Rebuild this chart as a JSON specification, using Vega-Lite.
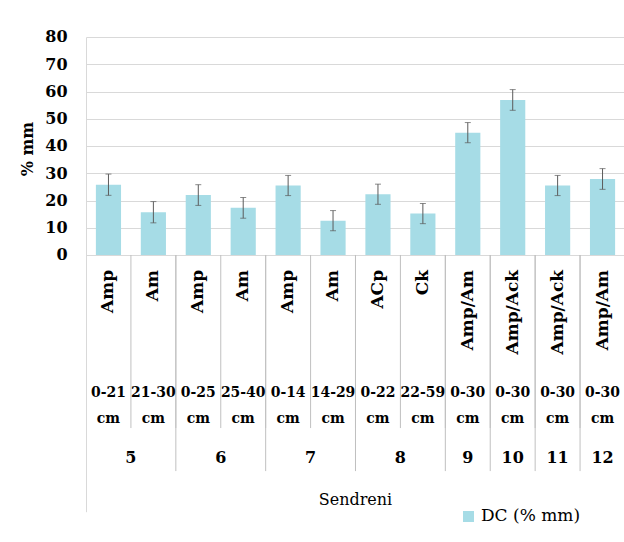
{
  "$schema": "https://vega.github.io/schema/vega-lite/v6.json",
  "autosize": {"type": "none"},
  "width": 539,
  "height": 474.7,
  "padding": {"left": 86, "top": 37, "right": 0, "bottom": 30},
  "background": "white",
  "config": {"view": {"stroke": null}, "font": "DejaVu Serif"},
  "title": {"text": "(a)", "fontSize": 17, "fontWeight": "bold", "font": "DejaVu Serif", "color": "black", "anchor": "middle", "frame": "bounds", "offset": 29, "baseline": "bottom"},
  "data": {"values": [
    {"sample": 1, "profile": "5", "horizon": "Amp", "depth": "0-21 cm", "dc": 25.8, "err": 3.9},
    {"sample": 2, "profile": "5", "horizon": "Am", "depth": "21-30 cm", "dc": 15.7, "err": 3.9},
    {"sample": 3, "profile": "6", "horizon": "Amp", "depth": "0-25 cm", "dc": 22.0, "err": 3.8},
    {"sample": 4, "profile": "6", "horizon": "Am", "depth": "25-40 cm", "dc": 17.3, "err": 3.8},
    {"sample": 5, "profile": "7", "horizon": "Amp", "depth": "0-14 cm", "dc": 25.5, "err": 3.7},
    {"sample": 6, "profile": "7", "horizon": "Am", "depth": "14-29 cm", "dc": 12.6, "err": 3.7},
    {"sample": 7, "profile": "8", "horizon": "ACp", "depth": "0-22 cm", "dc": 22.3, "err": 3.7},
    {"sample": 8, "profile": "8", "horizon": "Ck", "depth": "22-59 cm", "dc": 15.2, "err": 3.7},
    {"sample": 9, "profile": "9", "horizon": "Amp/Am", "depth": "0-30 cm", "dc": 44.9, "err": 3.7},
    {"sample": 10, "profile": "10", "horizon": "Amp/Ack", "depth": "0-30 cm", "dc": 56.9, "err": 3.8},
    {"sample": 11, "profile": "11", "horizon": "Amp/Ack", "depth": "0-30 cm", "dc": 25.5, "err": 3.7},
    {"sample": 12, "profile": "12", "horizon": "Amp/Am", "depth": "0-30 cm", "dc": 27.9, "err": 3.8}
  ]},
  "encoding": {
    "x": {"field": "sample", "type": "ordinal", "scale": {"paddingInner": 0, "paddingOuter": 0}, "axis": null}
  },
  "layer": [
    {
      "mark": {"type": "bar", "width": {"band": 0.56}},
      "encoding": {
        "y": {"field": "dc", "type": "quantitative", "title": "% mm",
          "scale": {"domain": [-94.2, 80], "nice": false, "zero": false},
          "axis": {"values": [0, 10, 20, 30, 40, 50, 60, 70, 80], "grid": true, "gridColor": "#d9d9d9", "domainColor": "#d9d9d9", "ticks": false,
            "labelFontSize": 16, "labelFontWeight": "bold", "labelColor": "black", "labelPadding": 19, "labelFont": "DejaVu Serif",
            "titleFontSize": 16, "titleFontWeight": "bold", "titleColor": "black", "titleFont": "DejaVu Serif", "titlePadding": 9, "titleY": 111.5}},
        "color": {"datum": "DC (% mm)", "scale": {"range": ["#a6dce6"]},
          "legend": {"title": null, "orient": "none", "legendX": 374, "legendY": 471, "symbolType": "square", "symbolSize": 121, "symbolStrokeWidth": 0,
            "labelFontSize": 17, "labelFont": "DejaVu Serif", "labelColor": "black", "labelOffset": 4, "padding": 0}}
      }
    },
    {
      "mark": {"type": "errorbar", "rule": {"color": "#5a5a5a", "strokeWidth": 1}, "ticks": {"color": "#5a5a5a", "size": 6}},
      "encoding": {
        "y": {"field": "dc", "type": "quantitative", "title": "% mm"},
        "yError": {"field": "err"}
      }
    },
    {
      "transform": [{"filter": "datum.sample > 1"}],
      "mark": {"type": "rule", "color": "#c0c0c0", "strokeWidth": 1},
      "encoding": {
        "x": {"field": "sample", "type": "ordinal", "bandPosition": 0},
        "y": {"datum": 0, "type": "quantitative", "title": "% mm"},
        "y2": {"datum": -63.5}
      }
    },
    {
      "transform": [{"filter": {"field": "sample", "oneOf": [3, 5, 7, 9, 10, 11, 12]}}],
      "mark": {"type": "rule", "color": "#c0c0c0", "strokeWidth": 1},
      "encoding": {
        "x": {"field": "sample", "type": "ordinal", "bandPosition": 0},
        "y": {"datum": 0, "type": "quantitative", "title": "% mm"},
        "y2": {"datum": -79.3}
      }
    },
    {
      "mark": {"type": "text", "angle": 270, "align": "right", "baseline": "middle", "fontSize": 17, "fontWeight": "bold", "color": "black", "font": "DejaVu Serif"},
      "encoding": {
        "y": {"datum": -5.5, "type": "quantitative", "title": "% mm"},
        "text": {"field": "horizon"}
      }
    },
    {
      "mark": {"type": "text", "align": "center", "baseline": "alphabetic", "lineBreak": " ", "lineHeight": 26.5, "fontSize": 15.5, "fontWeight": "bold", "color": "black", "font": "DejaVu Serif Condensed"},
      "encoding": {
        "y": {"datum": -52.0, "type": "quantitative", "title": "% mm"},
        "text": {"field": "depth"}
      }
    },
    {
      "transform": [{"filter": {"field": "sample", "oneOf": [1, 3, 5, 7]}}],
      "mark": {"type": "text", "align": "center", "baseline": "middle", "fontSize": 16, "fontWeight": "bold", "color": "black", "font": "DejaVu Serif"},
      "encoding": {
        "x": {"field": "sample", "type": "ordinal", "bandPosition": 1},
        "y": {"datum": -74.5, "type": "quantitative", "title": "% mm"},
        "text": {"field": "profile"}
      }
    },
    {
      "transform": [{"filter": "datum.sample >= 9"}],
      "mark": {"type": "text", "align": "center", "baseline": "middle", "fontSize": 16, "fontWeight": "bold", "color": "black", "font": "DejaVu Serif"},
      "encoding": {
        "y": {"datum": -74.5, "type": "quantitative", "title": "% mm"},
        "text": {"field": "profile"}
      }
    },
    {
      "data": {"values": [{"site": "Sendreni"}]},
      "mark": {"type": "text", "align": "center", "baseline": "middle", "fontSize": 16, "color": "black", "font": "DejaVu Serif"},
      "encoding": {
        "x": null,
        "y": {"datum": -89.9, "type": "quantitative", "title": "% mm"},
        "text": {"field": "site"}
      }
    }
  ]
}
